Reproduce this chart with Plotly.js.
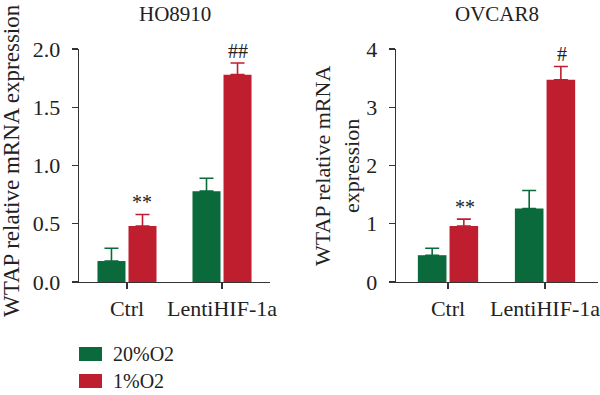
<!DOCTYPE html>
<html><head><meta charset="utf-8">
<script src="https://cdn.plot.ly/plotly-3.0.1.min.js"></script>
<style>html,body{margin:0;padding:0;background:#fff}#chart{width:600px;height:395px}</style>
</head><body><div id="chart"></div>
<script>
// ---- data ----
const categories = ['Ctrl', 'LentiHIF-1a'];
const seriesNames = ['20%O2', '1%O2'];
const panelTitles = ['HO8910', 'OVCAR8'];
const yTitle = 'WTAP relative mRNA expression';
const yTitleWrapped = 'WTAP relative mRNA<br>expression';

const ho8910_20 = [0.18, 0.78];
const ho8910_20_err = [0.11, 0.11];
const ho8910_1 = [0.48, 1.78];
const ho8910_1_err = [0.10, 0.10];
const ho8910_sig = ['**', '##'];

const ovcar8_20 = [0.46, 1.26];
const ovcar8_20_err = [0.12, 0.31];
const ovcar8_1 = [0.96, 3.47];
const ovcar8_1_err = [0.12, 0.23];
const ovcar8_sig = ['**', '#'];

const yTicksLeft = [0, 0.5, 1, 1.5, 2];
const yTickTextLeft = ['0.0', '0.5', '1.0', '1.5', '2.0'];
const yTicksRight = [0, 1, 2, 3, 4];
const yTickTextRight = ['0', '1', '2', '3', '4'];

// ---- style ----
const GREEN = '#0a6a3b';
const RED = '#be1e2e';
const FONT = 'Liberation Serif, Times New Roman, serif';
const TXT = '#222';
const AX = '#333';
const W = 600, H = 395;
const px = v => v / W;
const py = v => (H - v) / H;

function barTrace(vals, errs, color, name, xa, ya) {
  return {
    type: 'bar', x: categories, y: vals, name: name,
    xaxis: xa, yaxis: ya, showlegend: false,
    marker: {color: color, line: {width: 0}},
    error_y: {type: 'data', array: errs, arrayminus: errs.map(() => 0),
      symmetric: false, color: color, thickness: 1.6, width: 7},
    hoverinfo: 'skip'
  };
}

const data = [
  barTrace(ho8910_20, ho8910_20_err, GREEN, seriesNames[0], 'x', 'y'),
  barTrace(ho8910_1, ho8910_1_err, RED, seriesNames[1], 'x', 'y'),
  barTrace(ovcar8_20, ovcar8_20_err, GREEN, seriesNames[0], 'x2', 'y2'),
  barTrace(ovcar8_1, ovcar8_1_err, RED, seriesNames[1], 'x2', 'y2')
];

const yDomain = [py(282), py(49)];
const xCommon = {
  type: 'category', showline: true, linecolor: AX, linewidth: 1.3,
  ticks: 'outside', ticklen: 6, tickcolor: AX, tickwidth: 1.3,
  showgrid: false, zeroline: false, fixedrange: true,
  tickfont: {family: FONT, size: 22, color: TXT}
};
const yCommon = {
  showline: true, linecolor: AX, linewidth: 1.3,
  ticks: 'outside', ticklen: 6, tickcolor: AX, tickwidth: 1.3,
  showgrid: false, zeroline: false, fixedrange: true,
  tickmode: 'array', ticklabelstandoff: 7,
  tickfont: {family: FONT, size: 22, color: TXT}, domain: yDomain
};

const annotations = [];
function sigAnn(vals, errs, sig, xref, yref, shift) {
  sig.forEach((s, i) => annotations.push({
    x: categories[i], y: vals[i] + errs[i], xref: xref, yref: yref,
    text: s, showarrow: false, xshift: shift, yanchor: 'bottom', yshift: -1,
    font: {family: FONT, size: 20, color: TXT}
  }));
}
sigAnn(ho8910_1, ho8910_1_err, ho8910_sig, 'x', 'y', 15.5);
sigAnn(ovcar8_1, ovcar8_1_err, ovcar8_sig, 'x2', 'y2', 16.5);

// panel titles
annotations.push({x: px(175), y: py(14), xref: 'paper', yref: 'paper', text: panelTitles[0],
  showarrow: false, xanchor: 'center', yanchor: 'middle', font: {family: FONT, size: 21, color: TXT}});
annotations.push({x: px(497), y: py(14), xref: 'paper', yref: 'paper', text: panelTitles[1],
  showarrow: false, xanchor: 'center', yanchor: 'middle', font: {family: FONT, size: 21, color: TXT}});
// y titles
annotations.push({x: px(12), y: py(161), xref: 'paper', yref: 'paper', text: yTitle,
  textangle: -90, showarrow: false, xanchor: 'center', yanchor: 'middle',
  font: {family: FONT, size: 23, color: TXT}});
annotations.push({x: px(337), y: py(166), xref: 'paper', yref: 'paper', text: yTitleWrapped,
  textangle: -90, align: 'center', showarrow: false, xanchor: 'center', yanchor: 'middle',
  font: {family: FONT, size: 22, color: TXT}});

// legend
const legendColors = [GREEN, RED];
const legendRowY = [354, 381];
const shapes = [];
seriesNames.forEach((n, i) => {
  shapes.push({type: 'rect', xref: 'paper', yref: 'paper',
    x0: px(79), x1: px(102), y0: py(legendRowY[i] + 7), y1: py(legendRowY[i] - 7),
    fillcolor: legendColors[i], line: {width: 0}});
  annotations.push({x: px(111), y: py(legendRowY[i]), xref: 'paper', yref: 'paper', text: n,
    showarrow: false, xanchor: 'left', yanchor: 'middle', font: {family: FONT, size: 20, color: TXT}});
});

const layout = {
  width: W, height: H, margin: {l: 0, r: 0, t: 0, b: 0},
  paper_bgcolor: '#fff', plot_bgcolor: '#fff',
  barmode: 'group', bargap: 0.347, bargroupgap: 0.097,
  showlegend: false,
  font: {family: FONT, color: TXT},
  xaxis: Object.assign({}, xCommon, {domain: [px(79), px(270)], range: [-0.505, 1.505], anchor: 'y'}),
  yaxis: Object.assign({}, yCommon, {range: [0, 2], tickvals: yTicksLeft, ticktext: yTickTextLeft, anchor: 'x'}),
  xaxis2: Object.assign({}, xCommon, {domain: [px(396), px(598)], range: [-0.536, 1.546], anchor: 'y2'}),
  yaxis2: Object.assign({}, yCommon, {range: [0, 4], tickvals: yTicksRight, ticktext: yTickTextRight, anchor: 'x2'}),
  annotations: annotations, shapes: shapes
};

Plotly.newPlot('chart', data, layout, {displayModeBar: false, staticPlot: true});
</script>
</body></html>
